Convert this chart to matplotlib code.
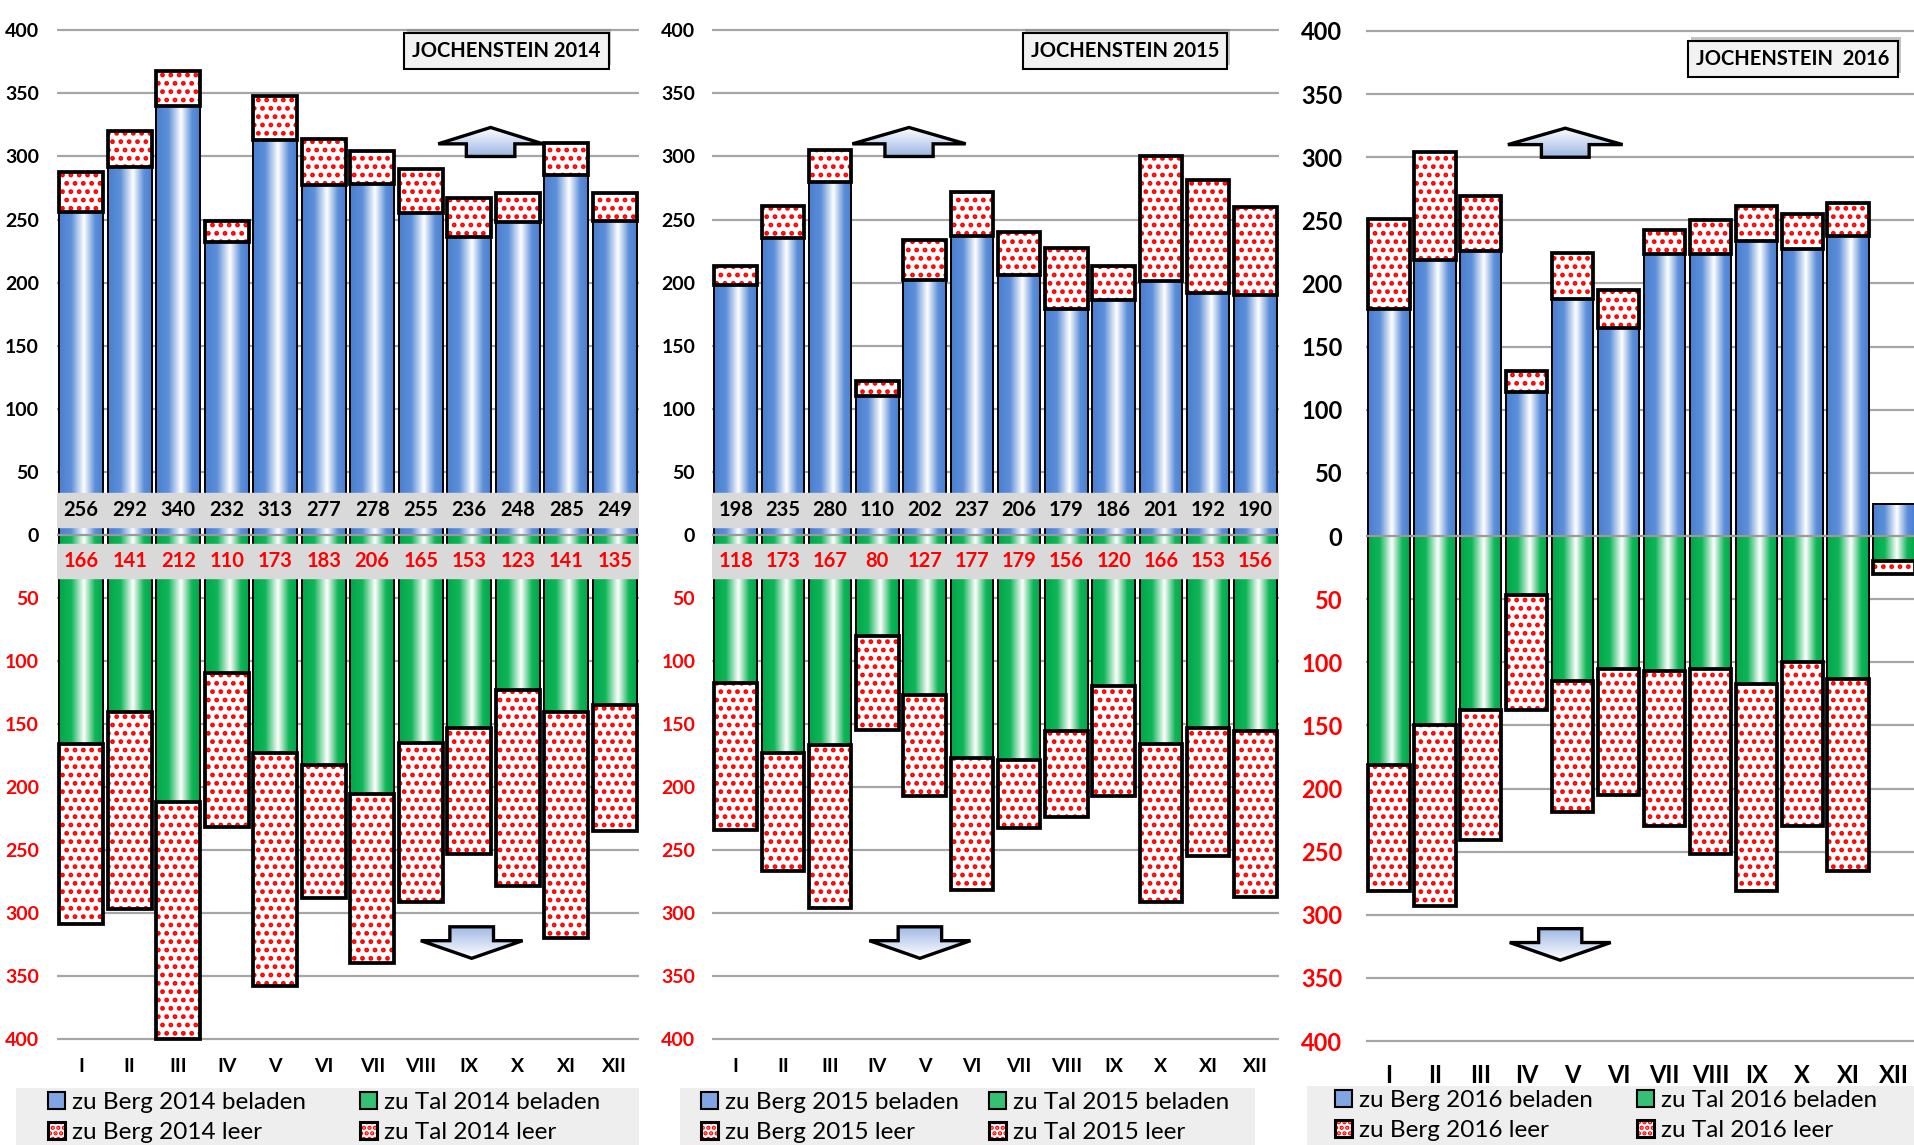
import numpy as np
import matplotlib.pyplot as plt
import matplotlib.patheffects as pe
from matplotlib.colors import LinearSegmentedColormap
from matplotlib.patches import Polygon, Rectangle, Patch

plt.rcParams['font.family'] = ['Lato', 'DejaVu Sans']
plt.rcParams['hatch.linewidth'] = 2.2

months = ['I', 'II', 'III', 'IV', 'V', 'VI', 'VII', 'VIII', 'IX', 'X', 'XI', 'XII']

# 2014
berg_bel_2014 = [256, 292, 340, 232, 313, 277, 278, 255, 236, 248, 285, 249]
berg_leer_2014 = [32, 28, 28, 17, 35, 37, 26, 35, 31, 23, 26, 22]
tal_bel_2014 = [166, 141, 212, 110, 173, 183, 206, 165, 153, 123, 141, 135]
tal_leer_2014 = [143, 156, 188, 122, 185, 105, 134, 126, 100, 156, 179, 100]
# 2015
berg_bel_2015 = [198, 235, 280, 110, 202, 237, 206, 179, 186, 201, 192, 190]
berg_leer_2015 = [15, 26, 25, 12, 32, 35, 34, 48, 27, 99, 89, 70]
tal_bel_2015 = [118, 173, 167, 80, 127, 177, 179, 156, 120, 166, 153, 156]
tal_leer_2015 = [116, 94, 129, 75, 80, 105, 54, 68, 87, 125, 102, 131]
# 2016
berg_bel_2016 = [180, 219, 226, 114, 188, 165, 223, 223, 234, 227, 238, 25]
berg_leer_2016 = [71, 85, 43, 17, 36, 30, 19, 27, 27, 28, 26, 0]
tal_bel_2016 = [181, 150, 138, 47, 115, 105, 107, 105, 117, 100, 113, 20]
tal_leer_2016 = [100, 143, 103, 91, 104, 100, 123, 147, 164, 130, 152, 10]

W, H = 1915, 1145
fig = plt.figure(figsize=(W / 100, H / 100), dpi=100)

blue_cm = LinearSegmentedColormap.from_list('b', [(0, '#4a7fd0'), (0.28, '#5d8fd9'), (0.57, '#ffffff'),
                                                  (0.82, '#5d8fd9'), (1, '#4a7fd0')])
green_cm = LinearSegmentedColormap.from_list('g', [(0, '#00a84a'), (0.28, '#10b558'), (0.57, '#ffffff'),
                                                   (0.82, '#10b558'), (1, '#00a84a')])
arrow_cm = LinearSegmentedColormap.from_list('a', ['#9db7e4', '#ffffff'])


def grad_bars(ax, bars, cmap):
    g = np.linspace(0, 1, 256).reshape(1, -1)
    for b in bars:
        x0, y0, w, h = b.get_x(), b.get_y(), b.get_width(), b.get_height()
        if h == 0:
            continue
        ax.imshow(g, extent=(x0, x0 + w, y0, y0 + h), cmap=cmap, aspect='auto',
                  interpolation='bilinear', zorder=2.5, origin='lower')


def arrow(ax, cx, hw, sw, base, wing, tip):
    pts = [(cx - sw, base), (cx - sw, wing), (cx - hw, wing), (cx, tip),
           (cx + hw, wing), (cx + sw, wing), (cx + sw, base)]
    poly = Polygon(pts, closed=True, facecolor='none', edgecolor='black', lw=2.4, zorder=2.8, joinstyle='miter')
    ax.add_patch(poly)
    g = np.linspace(0, 1, 100).reshape(-1, 1)
    im = ax.imshow(g, extent=(cx - hw, cx + hw, base, tip), cmap=arrow_cm, aspect='auto',
                   origin='lower', zorder=2.7)
    im.set_clip_path(poly)


def panel(rect, year, bb, bl, tb, tl, values, fs_tick, fs_month, tick_pad, month_pad,
          title, title_pos, up, down):
    l, t, r, b = rect
    ax = fig.add_axes([l / W, 1 - b / H, (r - l) / W, (b - t) / H])
    x = np.arange(12)
    bb = np.array(bb); bl = np.array(bl); tb = np.array(tb); tl = np.array(tl)
    w = 0.9
    blue = ax.bar(x, bb, w, facecolor='none', edgecolor='black', lw=1.4, zorder=3)
    grad_bars(ax, blue, blue_cm)
    green = ax.bar(x, -tb, w, facecolor='none', edgecolor='black', lw=1.4, zorder=3)
    grad_bars(ax, green, green_cm)
    m = bl > 0
    ax.bar(x[m], bl[m], w, bottom=bb[m], facecolor='white', edgecolor='#ff0000', hatch='..', lw=0, zorder=3.2)
    ax.bar(x[m], bl[m], w, bottom=bb[m], fill=False, edgecolor='black', lw=2.7, zorder=4, clip_on=False)
    m = tl > 0
    ax.bar(x[m], -tl[m], w, bottom=-tb[m], facecolor='white', edgecolor='#ff0000', hatch='..', lw=0, zorder=3.2)
    ax.bar(x[m], -tl[m], w, bottom=-tb[m], fill=False, edgecolor='black', lw=2.7, zorder=4, clip_on=False)

    ax.axhline(0, color='#9a9a9a', lw=1.6, zorder=5)
    if values:
        ax.axhspan(6, 33, color='#d9d9d9', zorder=6)
        ax.axhspan(-34, -7, color='#d9d9d9', zorder=6)
        for i in range(12):
            ax.text(i, 19.5, str(bb[i]), ha='center', va='center', fontsize=14.5, fontweight='bold', zorder=7)
            ax.text(i, -20.5, str(tb[i]), ha='center', va='center', fontsize=14.5, fontweight='bold',
                    color='#ff0000', zorder=7)

    arrow(ax, *up)
    arrow(ax, *down)

    ticks = np.arange(-400, 401, 50)
    ax.set_yticks(ticks)
    ax.set_yticklabels([str(abs(v)) for v in ticks], fontsize=fs_tick, fontweight='bold')
    for lab, v in zip(ax.get_yticklabels(), ticks):
        lab.set_color('#ff0000' if v < 0 else 'black')
    ax.set_xticks(x)
    ax.set_xticklabels(months, fontsize=fs_month, fontweight='bold')
    ax.tick_params(axis='y', length=0, pad=tick_pad)
    ax.tick_params(axis='x', length=0, pad=month_pad)
    ax.yaxis.grid(True, color='#a6a6a6', lw=1.6)
    ax.set_axisbelow(True)
    for s in ax.spines.values():
        s.set_visible(False)
    ax.set_xlim(-0.5, 11.5)
    ax.set_ylim(-403, 403)

    txt = ax.text(title_pos[0], title_pos[1], title, transform=ax.transAxes, ha='center', va='center',
                  fontsize=14.5, fontweight='bold', zorder=8,
                  bbox=dict(boxstyle='square,pad=0.4', fc='#f2f2f2', ec='black', lw=1.5))
    txt.get_bbox_patch().set_path_effects([pe.SimplePatchShadow(offset=(2, 3), shadow_rgbFace='gray', alpha=0.45),
                                           pe.Normal()])
    return ax


def legend_block(year, bg, col1, col2, top):
    fig.add_artist(Rectangle((bg[0] / W, 0), (bg[1] - bg[0]) / W, 1 - bg[2] / H,
                             transform=fig.transFigure, facecolor='#eeeeee', edgecolor='none', zorder=0))
    hb = Patch(facecolor='#7fa5e2', edgecolor='black', lw=1.5)
    hg = Patch(facecolor='#35c073', edgecolor='black', lw=1.5)
    hl = (Patch(facecolor='white', edgecolor='#ff0000', hatch='...', lw=0),
          Patch(fill=False, edgecolor='black', lw=2.2))
    kw = dict(loc='upper left', frameon=False, fontsize=17.5, borderpad=0, handletextpad=0.3,
              labelspacing=0.35, handlelength=0.7, handleheight=0.7, borderaxespad=0)
    fig.legend([hb, hl], ['zu Berg %d beladen' % year, 'zu Berg %d leer' % year],
               bbox_to_anchor=(col1 / W, 1 - top / H), **kw)
    fig.legend([hg, hl], ['zu Tal %d beladen' % year, 'zu Tal %d leer' % year],
               bbox_to_anchor=(col2 / W, 1 - top / H), **kw)


panel((57, 26.6, 639, 1042.8), 2014, berg_bel_2014, berg_leer_2014, tal_bel_2014, tal_leer_2014, True,
      14, 14, 13, 11, 'JOCHENSTEIN 2014', (0.772, 0.976),
      (8.44, 1.08, 0.5, 300, 310, 323), (8.05, 1.05, 0.45, -311, -322, -336))
panel((712, 26.6, 1279, 1042.8), 2015, berg_bel_2015, berg_leer_2015, tal_bel_2015, tal_leer_2015, True,
      14, 14, 12, 11, 'JOCHENSTEIN 2015', (0.728, 0.976),
      (3.67, 1.2, 0.51, 300, 310, 323), (3.9, 1.07, 0.46, -311, -322, -336))
panel((1366, 27.2, 1917, 1044.8), 2016, berg_bel_2016, berg_leer_2016, tal_bel_2016, tal_leer_2016, False,
      17, 17, 17, 14, 'JOCHENSTEIN  2016', (0.775, 0.969),
      (3.84, 1.25, 0.52, 300, 310, 323), (3.73, 1.1, 0.47, -311, -322, -336))

legend_block(2014, (16, 639, 1088), 48, 360, 1092)
legend_block(2015, (680, 1255, 1088), 701, 989, 1092)
legend_block(2016, (1307, 1915, 1086), 1335, 1637, 1090)

fig.savefig('out.png', dpi=100, facecolor='white')
